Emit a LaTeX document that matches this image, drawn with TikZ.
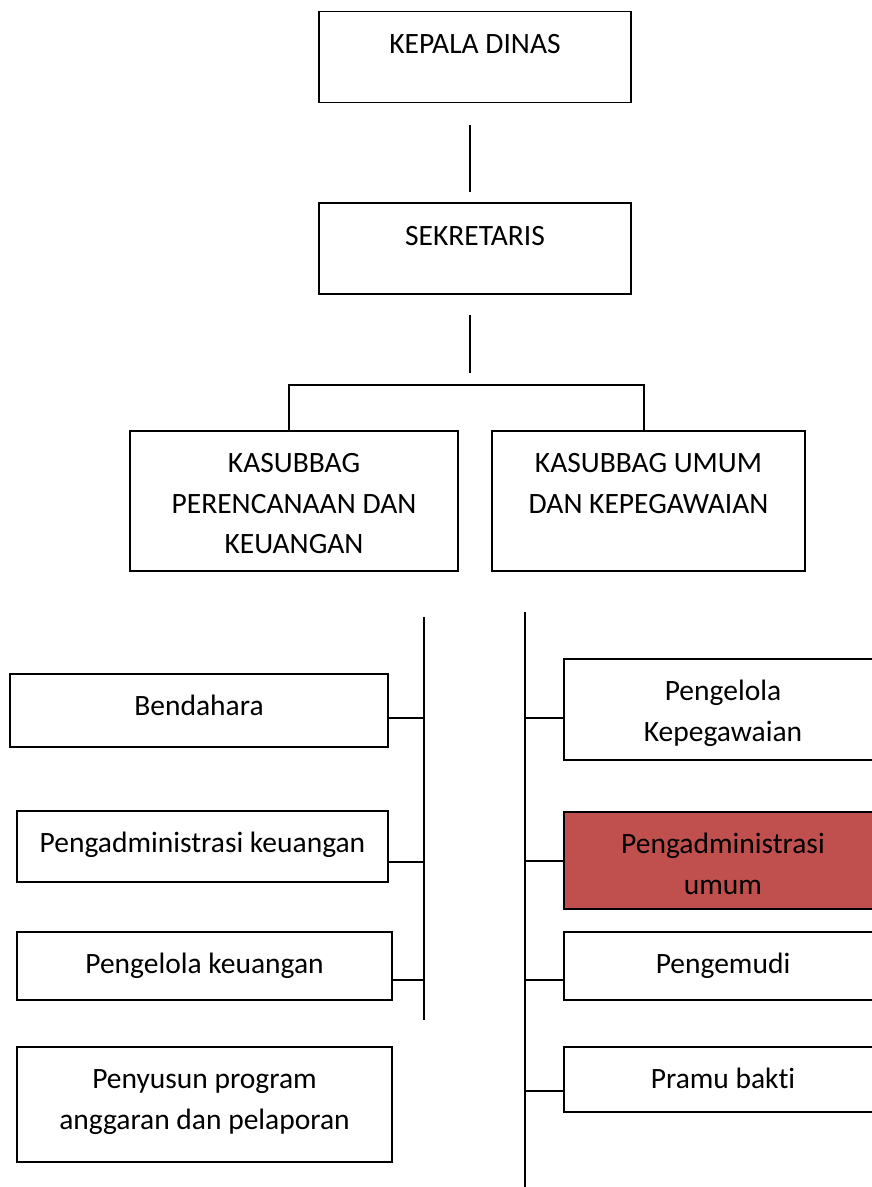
\documentclass[tikz,border=0pt]{standalone}
\usepackage{fontspec}
\setmainfont[Ligatures=NoCommon]{Carlito}
\definecolor{accred}{HTML}{C0504D}
\begin{document}
\begin{tikzpicture}[x=1pt,y=-1pt,
  box/.style={draw, line width=1.5pt, inner sep=0pt, outer sep=0pt, rectangle},
  lbl/.style={anchor=north, inner sep=0pt, align=center, font=\fontsize{29.5}{40.5}\selectfont},
  ln/.style={line width=1.5pt}]
\clip (0,0) rectangle (872,1187);
\fill[white] (0,0) rectangle (872,1187);
% top boxes
\node[box, minimum width=312pt, minimum height=91pt] (kd) at (475,57) {};
\node[lbl] (kdt) at (475,24.5) {\strut KEPALA DINAS};
\node[box, minimum width=312pt, minimum height=91pt] (sk) at (475,248.5) {};
\node[lbl] (skt) at (475,216.5) {\strut SEKRETARIS};
\node[box, minimum width=328pt, minimum height=140pt] (kp) at (294,501) {};
\node[lbl] (kpt) at (294,444) {\strut KASUBBAG\\PERENCANAAN DAN\\KEUANGAN};
\node[box, minimum width=313pt, minimum height=140pt] (ku) at (648.5,501) {};
\node[lbl] (kut) at (648.5,444) {\strut KASUBBAG UMUM\\DAN KEPEGAWAIAN};
% left column
\node[box, minimum width=378pt, minimum height=73pt] (bd) at (199,710.5) {};
\node[lbl] (bdt) at (199,687) {\strut Bendahara};
\node[box, minimum width=371pt, minimum height=71pt] (pak) at (202.5,846.5) {};
\node[lbl] (pakt) at (202.5,824) {\strut Pengadministrasi keuangan};
\node[box, minimum width=375pt, minimum height=68pt] (pk) at (204.5,966) {};
\node[lbl] (pkt) at (204.5,945) {\strut Pengelola keuangan};
\node[box, minimum width=375pt, minimum height=115pt] (ps) at (204.5,1104.5) {};
\node[lbl] (pst) at (204.5,1060) {\strut Penyusun program\\anggaran dan pelaporan};
% right column
\node[box, minimum width=318pt, minimum height=101pt] (pkp) at (723,709.5) {};
\node[lbl] (pkpt) at (723,672) {\strut Pengelola\\Kepegawaian};
\node[box, fill=accred, minimum width=318pt, minimum height=97pt] (pau) at (723,860.5) {};
\node[lbl] (paut) at (723,825) {\strut Pengadministrasi\\umum};
\node[box, minimum width=318pt, minimum height=68pt] (pm) at (723,966) {};
\node[lbl] (pmt) at (723,945) {\strut Pengemudi};
\node[box, minimum width=318pt, minimum height=65pt] (pb) at (723,1079.5) {};
\node[lbl] (pbt) at (723,1060) {\strut Pramu bakti};
% connectors
\coordinate (a1) at (470,125); \coordinate (a2) at (470,192);
\draw[ln] (a1) -- (a2);
\coordinate (b1) at (470,315); \coordinate (b2) at (470,373);
\draw[ln] (b1) -- (b2);
\coordinate (bl) at (289,385); \coordinate (br) at (644,385);
\draw[ln] (kp.north -| bl) -- (bl) -- (br) -- (ku.north -| br);
% left spine
\coordinate (ls1) at (424,617); \coordinate (ls2) at (424,1020);
\draw[ln] (ls1) -- (ls2);
\coordinate (j1) at (424,718); \coordinate (j2) at (424,862); \coordinate (j3) at (424,980);
\draw[ln] (bd.east |- j1) -- (j1);
\draw[ln] (pak.east |- j2) -- (j2);
\draw[ln] (pk.east |- j3) -- (j3);
% right spine
\coordinate (rs1) at (525,612); \coordinate (rs2) at (525,1187);
\draw[ln] (rs1) -- (rs2);
\coordinate (k1) at (525,718); \coordinate (k2) at (525,861); \coordinate (k3) at (525,980); \coordinate (k4) at (525,1091);
\draw[ln] (k1) -- (pkp.west |- k1);
\draw[ln] (k2) -- (pau.west |- k2);
\draw[ln] (k3) -- (pm.west |- k3);
\draw[ln] (k4) -- (pb.west |- k4);
\end{tikzpicture}
\end{document}
